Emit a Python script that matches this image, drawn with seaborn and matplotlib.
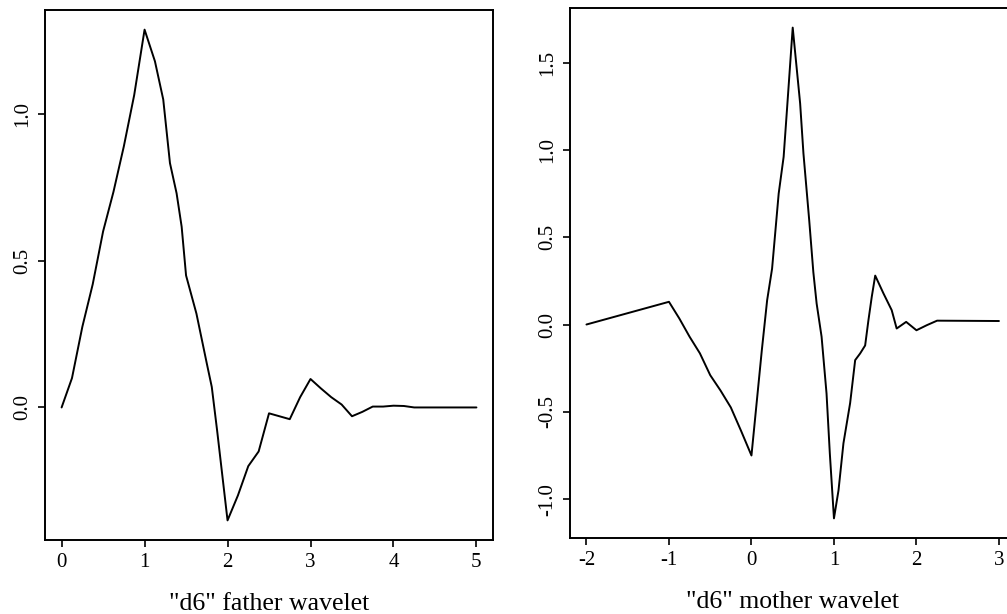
import matplotlib
matplotlib.use("Agg")
import matplotlib.pyplot as plt
import pandas as pd
import seaborn as sns

# Daubechies "d6" scaling (father) function, sampled on its support [0, 5]
father_x = [0, 0.125, 0.25, 0.375, 0.5, 0.625, 0.75, 0.875, 1.0, 1.125, 1.225,
            1.306, 1.386, 1.447, 1.5, 1.625, 1.75, 1.81, 1.875, 2.0, 2.125,
            2.25, 2.375, 2.5, 2.625, 2.75, 2.875, 3.0, 3.125, 3.25, 3.375,
            3.5, 3.625, 3.75, 3.875, 4.0, 4.125, 4.25, 5.0]
father_y = [0.0, 0.10, 0.275, 0.42, 0.60, 0.735, 0.89, 1.065, 1.288, 1.18,
            1.05, 0.833, 0.73, 0.616, 0.45, 0.32, 0.15, 0.07, -0.08, -0.385,
            -0.30, -0.20, -0.15, -0.02, -0.03, -0.04, 0.035, 0.097, 0.065,
            0.035, 0.01, -0.03, -0.015, 0.003, 0.003, 0.006, 0.005, 0.0, 0.0]

# "d6" wavelet (mother) function on [-2, 3]
mother_x = [-2, -1, -0.875, -0.75, -0.625, -0.5, -0.375, -0.25, -0.125, 0.0,
            0.125, 0.19, 0.25, 0.33, 0.39, 0.43, 0.5, 0.59, 0.63, 0.70, 0.75,
            0.79, 0.85, 0.91, 0.95, 1.0, 1.055, 1.115, 1.196, 1.257, 1.317,
            1.378, 1.418, 1.458, 1.5, 1.6, 1.7, 1.76, 1.875, 2.0, 2.125,
            2.25, 3.0]
mother_y = [0.0, 0.13, 0.035, -0.07, -0.165, -0.29, -0.378, -0.475, -0.61,
            -0.75, -0.15, 0.139, 0.32, 0.75, 0.96, 1.227, 1.70, 1.266, 0.98,
            0.597, 0.30, 0.12, -0.07, -0.395, -0.739, -1.11, -0.95, -0.68,
            -0.45, -0.204, -0.166, -0.12, 0.025, 0.158, 0.28, 0.178, 0.082,
            -0.023, 0.015, -0.033, -0.004, 0.022, 0.02]

father_xticks = [0, 1, 2, 3, 4, 5]
father_yticks = [0.0, 0.5, 1.0]
mother_xticks = [-2, -1, 0, 1, 2, 3]
mother_yticks = [-1.0, -0.5, 0.0, 0.5, 1.0, 1.5]
panel_labels = ['"d6" father wavelet', '"d6" mother wavelet']

sns.set_theme(style="white")
plt.rcParams.update({
    "font.family": ["Liberation Serif", "DejaVu Serif"],
    "axes.unicode_minus": False,
    "axes.edgecolor": "black",
    "axes.linewidth": 1.4,
    "axes.facecolor": "white",
    "figure.facecolor": "white",
    "xtick.bottom": True,
    "ytick.left": True,
    "xtick.direction": "out",
    "ytick.direction": "out",
    "xtick.major.size": 5,
    "ytick.major.size": 5,
    "xtick.major.width": 1.2,
    "ytick.major.width": 1.2,
    "xtick.color": "black",
    "ytick.color": "black",
    "xtick.labelsize": 15,
    "ytick.labelsize": 15,
    "xtick.major.pad": 4.5,
    "ytick.major.pad": 4,
    "text.color": "black",
    "axes.labelcolor": "black",
})

fig = plt.figure(figsize=(10.07, 6.14), dpi=100)
ax1 = fig.add_axes([0.0447, 0.1205, 0.4449, 0.8632])
ax2 = fig.add_axes([0.566, 0.1238, 0.4424, 0.8632])

panels = [
    (ax1, father_x, father_y, father_xticks, father_yticks, panel_labels[0]),
    (ax2, mother_x, mother_y, mother_xticks, mother_yticks, panel_labels[1]),
]

for ax, xs, ys, xt, yt, label in panels:
    df = pd.DataFrame({"x": xs, "y": ys})
    sns.lineplot(data=df, x="x", y="y", ax=ax, color="black",
                 linewidth=1.4, estimator=None)
    # range padded by 4% on each side
    xlo, xhi = min(xs), max(xs)
    ylo, yhi = min(ys), max(ys)
    dx, dy = 0.04 * (xhi - xlo), 0.04 * (yhi - ylo)
    ax.set_xlim(xlo - dx, xhi + dx)
    ax.set_ylim(ylo - dy, yhi + dy)
    ax.set_xticks(xt, labels=[str(t) for t in xt])
    ax.set_yticks(yt, labels=[f"{t:.1f}" for t in yt])
    for lab in ax.get_yticklabels():
        lab.set_rotation(90)
        lab.set_va("center")
    ax.set_xlabel(label, fontsize=18.5, labelpad=15)
    ax.set_ylabel("")
    for side in ax.spines.values():
        side.set_visible(True)
        side.set_color("black")

fig.savefig("out.png", dpi=100)
